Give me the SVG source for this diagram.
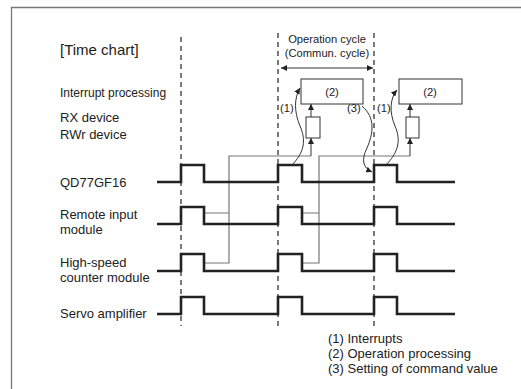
<svg xmlns="http://www.w3.org/2000/svg" width="521" height="389" viewBox="0 0 521 389">
<style>
text{font-family:"Liberation Sans",Arial,sans-serif;fill:#222}
.lbl{font-size:13px}
.sm{font-size:11.2px}
.sig{fill:none;stroke:#222;stroke-width:2.6;stroke-linejoin:miter}
.dash{fill:none;stroke:#333;stroke-width:1.3;stroke-dasharray:5 4}
.gray{fill:none;stroke:#777;stroke-width:1.2}
.thin{fill:none;stroke:#333;stroke-width:1}
.box{fill:#fff;stroke:#333;stroke-width:1}
</style>
<defs>
<marker id="ah" viewBox="0 0 10 10" refX="10" refY="5" markerWidth="6" markerHeight="6" orient="auto-start-reverse" markerUnits="userSpaceOnUse">
<path d="M0,0 L10,5 L0,10 z" fill="#222"/>
</marker>
</defs>
<rect width="521" height="389" fill="#fff"/>
<path d="M11.5,389 V7.5 H521" fill="none" stroke="#777" stroke-width="1.3"/>
<text x="60" y="55" style="font-size:15px">[Time chart]</text>
<g id="guides">
<line class="dash" x1="181" y1="37" x2="181" y2="326"/>
<line class="dash" x1="278" y1="33" x2="278" y2="326"/>
<line class="dash" x1="374" y1="33" x2="374" y2="326"/>
</g>
<g id="cycle">
<text class="sm" x="327" y="43" text-anchor="middle">Operation cycle</text>
<text class="sm" x="327" y="57" text-anchor="middle">(Commun. cycle)</text>
<line class="thin" x1="281" y1="68" x2="373" y2="68" stroke-width="1.3" marker-start="url(#ah)" marker-end="url(#ah)"/>
</g>
<g id="labels">
<text x="60" y="97" style="font-size:12px">Interrupt processing</text>
<text class="lbl" x="60" y="122">RX device</text>
<text class="lbl" x="60" y="139">RWr device</text>
<text class="lbl" x="60" y="187">QD77GF16</text>
<text class="lbl" x="60" y="219">Remote input</text>
<text class="lbl" x="60" y="234">module</text>
<text class="lbl" x="60" y="267">High-speed</text>
<text class="lbl" x="60" y="282">counter module</text>
<text class="lbl" x="60" y="318">Servo amplifier</text>
</g>
<g id="connectors">
<path class="gray" d="M204,213 H229 M204,263 H229 V156 H311"/>
<path class="gray" d="M302,213 H319 M302,263 H319 V156 H410"/>
<line class="thin" x1="311" y1="156" x2="311" y2="138" marker-end="url(#ah)"/>
<line class="thin" x1="311" y1="117" x2="311" y2="104" marker-end="url(#ah)"/>
<line class="thin" x1="410" y1="156" x2="410" y2="138" marker-end="url(#ah)"/>
<line class="thin" x1="410" y1="117" x2="410" y2="104" marker-end="url(#ah)"/>
<path class="thin" d="M291,166 C305,152 306,140 300,126 C294,112 294,98 300,88" marker-end="url(#ah)"/>
<path class="thin" d="M385,166 C399,152 401,140 395,126 C389,112 390,98 397,90" marker-end="url(#ah)"/>
<path class="thin" d="M362,106 C376,118 373,134 367,148 C361,160 363,168 372,172" marker-end="url(#ah)"/>
</g>
<g id="interrupt1">
<rect class="box" x="301" y="79" width="62" height="25"/>
<text class="sm" x="332" y="96" text-anchor="middle">(2)</text>
</g>
<g id="interrupt2">
<rect class="box" x="399" y="79" width="63" height="25"/>
<text class="sm" x="430" y="96" text-anchor="middle">(2)</text>
</g>
<g id="rx1"><rect class="box" x="306" y="117" width="14" height="21"/></g>
<g id="rx2"><rect class="box" x="406" y="117" width="13" height="21"/></g>
<g id="numlabels">
<text class="sm" x="280" y="112">(1)</text>
<text class="sm" x="347" y="112">(3)</text>
<text class="sm" x="377" y="112">(1)</text>
</g>
<g id="signals">
<path class="sig" d="M157,182 H181 V165 H204 V182 H278 V165 H302 V182 H374 V165 H397 V182 H455"/>
<path class="sig" d="M157,224 H181 V207 H204 V224 H278 V207 H302 V224 H374 V207 H397 V224 H455"/>
<path class="sig" d="M157,271 H181 V254 H204 V271 H278 V254 H302 V271 H374 V254 H397 V271 H455"/>
<path class="sig" d="M157,314 H181 V297 H204 V314 H278 V297 H302 V314 H374 V297 H397 V314 H455"/>
</g>
<g id="legend">
<text class="lbl" x="328" y="343">(1) Interrupts</text>
<text class="lbl" x="328" y="358">(2) Operation processing</text>
<text class="lbl" x="328" y="373">(3) Setting of command value</text>
</g>
</svg>
